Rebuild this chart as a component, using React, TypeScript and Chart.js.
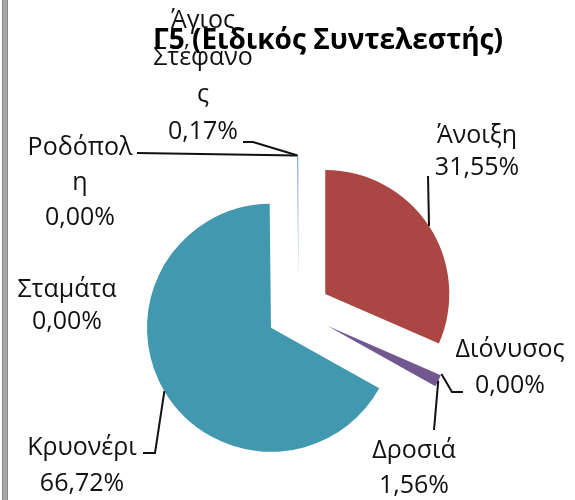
import React, { useEffect, useRef } from "react";
import { Chart, registerables } from "chart.js";

Chart.register(...registerables);

// ---- data ----
const categories = ["Άνοιξη", "Διόνυσος", "Δροσιά", "Κρυονέρι", "Σταμάτα", "Ροδόπολη", "Άγιος Στέφανος"];
const shares = [31.55, 0.0, 1.56, 66.72, 0.0, 0.0, 0.17];
const labelWrap = [["Άνοιξη"], ["Διόνυσος"], ["Δροσιά"], ["Κρυονέρι"], ["Σταμάτα"], ["Ροδόπολ", "η"], ["Άγιος", "Στέφανο", "ς"]];
const sliceColors = ["#AA4643", "#89A54E", "#71588F", "#4198AF", "#DB843D", "#4572A7", "#8FAAD3"];
const chartTitle = "Γ5 (Ειδικός Συντελεστής)";

// ---- layout / style ----
const EXPLODE = 32;
const RADIUS = 124;
const LABEL_FONT = '25px "Open Sans"';
const TITLE_FONT = 'bold 28px "Open Sans"';
const TEXT_COLOR = "#111";

type Layout = { x: number; y: number; gap: number; leader: number[][] | null };
const labelLayout: Layout[] = [
  { x: 477, y: 143, gap: 32, leader: [[428, 176]] },
  { x: 510, y: 357, gap: 36, leader: [[463, 392], [452, 392]] },
  { x: 414, y: 458, gap: 35, leader: [[434, 430]] },
  { x: 82, y: 455, gap: 36, leader: [[143, 453], [155, 453]] },
  { x: 67, y: 297, gap: 32, leader: null },
  { x: 80, y: 155, gap: 35, leader: [[137, 153]] },
  { x: 203, y: 28, gap: 37, leader: [[243, 142], [253, 142]] },
];

const fmtPct = (v: number) => v.toFixed(2).replace(".", ",") + "%";

const explodedPiePlugin = {
  id: "explodedPieExcel",
  beforeDatasetDraw(chart: any, args: any) {
    const ctx = chart.ctx;
    for (const el of args.meta.data) {
      const p = el.getProps(["startAngle", "endAngle"], true);
      const mid = (p.startAngle + p.endAngle) / 2;
      ctx.save();
      ctx.translate(Math.cos(mid) * EXPLODE, Math.sin(mid) * EXPLODE);
      el.draw(ctx);
      ctx.restore();
    }
    return false;
  },
  afterDraw(chart: any) {
    const ctx = chart.ctx;
    const meta = chart.getDatasetMeta(0);
    ctx.save();
    // leader lines
    ctx.strokeStyle = TEXT_COLOR;
    ctx.lineWidth = 2;
    ctx.lineJoin = "miter";
    meta.data.forEach((el: any, i: number) => {
      const L = labelLayout[i];
      if (!L.leader) return;
      const p = el.getProps(["x", "y", "startAngle", "endAngle", "outerRadius"], true);
      const mid = (p.startAngle + p.endAngle) / 2;
      const ax = p.x + Math.cos(mid) * (p.outerRadius + EXPLODE);
      const ay = p.y + Math.sin(mid) * (p.outerRadius + EXPLODE);
      ctx.beginPath();
      ctx.moveTo(L.leader[0][0], L.leader[0][1]);
      for (let k = 1; k < L.leader.length; k++) ctx.lineTo(L.leader[k][0], L.leader[k][1]);
      ctx.lineTo(ax, ay);
      ctx.stroke();
    });
    // labels
    ctx.fillStyle = TEXT_COLOR;
    ctx.font = LABEL_FONT;
    ctx.textAlign = "center";
    ctx.textBaseline = "alphabetic";
    categories.forEach((_, i) => {
      const L = labelLayout[i];
      const lines = [...labelWrap[i], fmtPct(shares[i])];
      lines.forEach((t, k) => ctx.fillText(t, L.x, L.y + k * L.gap));
    });
    // title
    ctx.font = TITLE_FONT;
    ctx.fillStyle = "#000";
    ctx.fillText(chartTitle, 328, 49);
    ctx.restore();
  },
};

export default function App() {
  const ref = useRef<HTMLCanvasElement | null>(null);
  useEffect(() => {
    if (!ref.current) return;
    const chart = new Chart(ref.current, {
      type: "pie",
      data: {
        labels: categories,
        datasets: [
          {
            data: shares,
            backgroundColor: sliceColors,
            borderWidth: 0,
          },
        ],
      },
      options: {
        responsive: false,
        animation: false,
        radius: RADIUS,
        layout: { padding: { left: 22, top: 123, right: 0, bottom: 0 } },
        plugins: {
          legend: { display: false },
          tooltip: { enabled: false },
          title: { display: false },
        },
      } as any,
      plugins: [explodedPiePlugin],
    });
    return () => chart.destroy();
  }, []);
  return (
    <div style={{ position: "absolute", left: 0, top: 0, width: 575, height: 500, background: "#fff", overflow: "hidden" }}>
      <div
        style={{
          position: "absolute",
          left: 2,
          top: 0,
          width: 4,
          height: 500,
          background: "#a8a8a8",
          borderLeft: "1px solid #8a8a8a",
          borderRight: "1px solid #8a8a8a",
        }}
      />
      <canvas ref={ref} width={575} height={500} style={{ position: "absolute", left: 0, top: 0, display: "block" }} />
    </div>
  );
}
